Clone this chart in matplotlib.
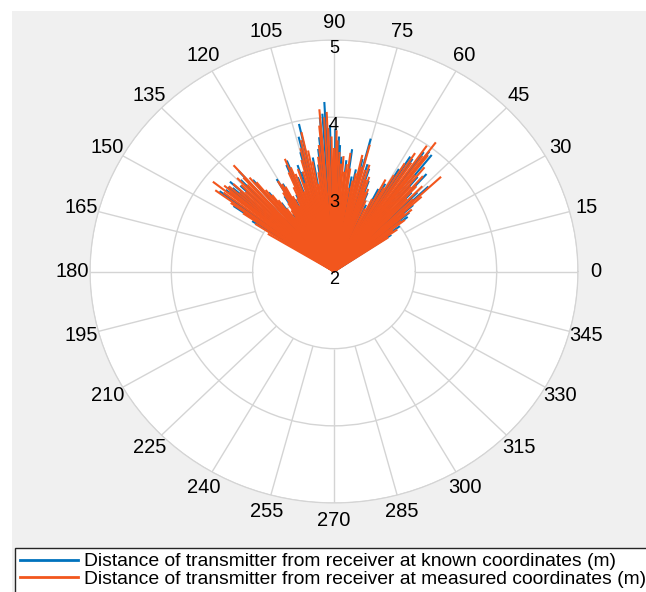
import numpy as np
import matplotlib
matplotlib.use("Agg")
import matplotlib.pyplot as plt
from matplotlib.patches import Rectangle

plt.rcParams.update({"font.family": "Liberation Sans"})

C_KNOWN, C_MEAS = "#0072bd", "#f2561d"
C_GRID = "#d4d4d4"

# distance of transmitter from receiver at known coordinates (m)
known_deg = [34.0, 36.0, 38.0, 39.5, 41.5, 43.5, 45.0, 47.0, 48.0, 50.0,
             51.5, 53.0, 54.5, 56.5, 57.8, 59.0, 61.0, 63.0, 65.5, 68.0,
             70.0, 72.0, 73.5, 75.3, 76.5, 78.5, 80.0, 82.0, 84.0, 86.5,
             87.4, 88.0, 89.5, 91.5, 93.1, 94.0, 95.0, 96.0, 97.0, 98.0,
             100.0, 102.7, 104.0, 105.0, 107.0, 108.0, 110.0, 112.0, 113.0, 115.0,
             117.0, 119.0, 120.5, 122.0, 124.0, 126.0, 128.0, 130.0, 132.0, 134.0,
             136.0, 137.7, 139.0, 140.0, 141.5, 143.5, 145.5, 147.0]
known_r = [2.85, 3.00, 3.15, 3.20, 3.30, 3.60, 3.45, 3.40, 3.70, 3.60,
           3.93, 3.95, 3.90, 3.75, 3.76, 3.55, 3.30, 3.20, 2.95, 3.10,
           3.25, 3.40, 3.45, 3.78, 3.50, 3.35, 3.25, 3.60, 3.45, 3.49,
           3.64, 3.75, 3.85, 3.90, 4.20, 4.05, 4.00, 3.75, 3.60, 3.40,
           3.50, 3.96, 3.80, 3.60, 3.35, 3.45, 3.30, 3.55, 3.50, 3.10,
           3.05, 3.30, 3.39, 3.15, 2.90, 3.10, 3.30, 3.55, 3.75, 3.65,
           3.60, 3.73, 3.65, 3.70, 3.70, 3.75, 3.50, 3.20]

# distance of transmitter from receiver at measured coordinates (m)
meas_deg = [33.5, 35.0, 36.5, 37.5, 38.5, 40.0, 41.0, 42.0, 43.0, 44.0,
            45.5, 46.5, 47.5, 48.5, 49.5, 50.5, 51.5, 52.5, 53.2, 54.0,
            55.0, 56.0, 57.0, 58.2, 59.5, 60.5, 62.0, 63.5, 65.0, 67.0,
            68.5, 69.5, 70.5, 71.5, 72.5, 73.8, 75.0, 76.0, 77.0, 78.0,
            79.0, 80.5, 81.5, 82.5, 83.5, 84.5, 85.5, 86.5, 87.5, 88.5,
            89.0, 90.0, 91.0, 92.2, 92.5, 93.5, 94.9, 95.5, 96.5, 97.5,
            98.5, 99.5, 100.5, 101.5, 102.5, 103.5, 104.5, 105.5, 106.5, 107.5,
            108.5, 109.5, 110.5, 111.5, 112.5, 113.5, 114.5, 115.5, 116.5, 117.5,
            118.5, 119.5, 120.5, 121.5, 122.5, 123.5, 124.5, 125.5, 126.5, 127.5,
            128.5, 129.5, 130.5, 131.9, 132.5, 133.5, 134.5, 135.5, 136.5, 137.5,
            138.5, 139.5, 140.5, 141.2, 142.0, 143.0, 144.2, 145.0, 146.0, 147.5,
            149.0]
meas_r = [2.80, 2.95, 2.90, 3.10, 3.05, 3.25, 3.15, 3.45, 3.80, 3.35,
          3.55, 3.30, 3.50, 3.65, 3.45, 3.75, 3.60, 3.90, 4.09, 3.85,
          3.99, 3.70, 3.83, 3.65, 3.45, 3.25, 3.35, 3.05, 2.90, 3.00,
          3.15, 3.10, 3.30, 3.25, 3.45, 3.37, 3.70, 3.40, 3.55, 3.30,
          3.20, 3.10, 3.35, 3.55, 3.40, 3.30, 3.50, 3.40, 3.55, 3.70,
          3.83, 3.60, 3.75, 3.86, 4.07, 4.00, 4.11, 3.90, 3.65, 3.50,
          3.30, 3.15, 3.45, 3.60, 3.85, 3.75, 3.65, 3.50, 3.35, 3.20,
          3.40, 3.10, 3.35, 3.45, 3.58, 3.40, 3.20, 3.05, 2.95, 3.10,
          3.25, 3.30, 3.36, 3.20, 3.05, 2.95, 2.85, 3.00, 3.15, 3.25,
          3.35, 3.50, 3.60, 3.85, 3.65, 3.55, 3.70, 3.60, 3.50, 3.68,
          3.55, 3.70, 3.75, 3.65, 3.89, 3.70, 3.80, 3.55, 3.35, 3.15,
          2.95]

theta_ticks = list(range(0, 360, 15))
r_ticks = [2, 3, 4, 5]
labels = ["Distance of transmitter from receiver at known coordinates (m)",
          "Distance of transmitter from receiver at measured coordinates (m)"]

fig = plt.figure(figsize=(6.46, 5.92), dpi=100, facecolor="white")
fig.patches.append(Rectangle((12 / 646, 0), 1, 1 - 11 / 592,
                             transform=fig.transFigure, fc="#f0f0f0",
                             ec="none", zorder=-10))

ax = fig.add_axes([90 / 646, 1 - 503 / 592, 488 / 646, 463 / 592],
                  projection="polar")
ax.set_aspect("auto")
ax.set_facecolor("white")
ax.set_rlim(r_ticks[0], r_ticks[-1])
ax.set_thetagrids(theta_ticks, [str(t) for t in theta_ticks])
ax.xaxis.grid(False)
ax.set_rticks(r_ticks)
ax.set_yticklabels([])
ax.yaxis.grid(True, color=C_GRID, lw=1.0)
ax.spines["polar"].set_color(C_GRID)
ax.tick_params(axis="x", pad=2, labelsize=14.5)
ax.tick_params(axis="y", length=0)

# theta spokes start at the first ring, as MATLAB draws them
ax.vlines(np.deg2rad(theta_ticks), r_ticks[1], r_ticks[-1], color=C_GRID,
          lw=1.0, zorder=1)

ax.vlines(np.deg2rad(known_deg), r_ticks[0], known_r, color=C_KNOWN,
          lw=1.5, zorder=3)
ax.vlines(np.deg2rad(meas_deg), r_ticks[0], meas_r, color=C_MEAS,
          lw=1.5, zorder=4)

for r in r_ticks:
    ax.text(np.pi / 2, r, str(r), ha="center", va="top", fontsize=13,
            zorder=5)

h1, = ax.plot([], [], color=C_KNOWN, lw=2)
h2, = ax.plot([], [], color=C_MEAS, lw=2)
fig.legend([h1, h2], labels, loc="upper left",
           bbox_to_anchor=(15 / 646, 1 - 548 / 592), fontsize=13.9,
           frameon=True, fancybox=False, edgecolor="#262626",
           facecolor="white", framealpha=1, borderpad=0.25,
           handlelength=3.0, handletextpad=0.35, labelspacing=0.0,
           borderaxespad=0)

fig.savefig("out.png", dpi=100)
